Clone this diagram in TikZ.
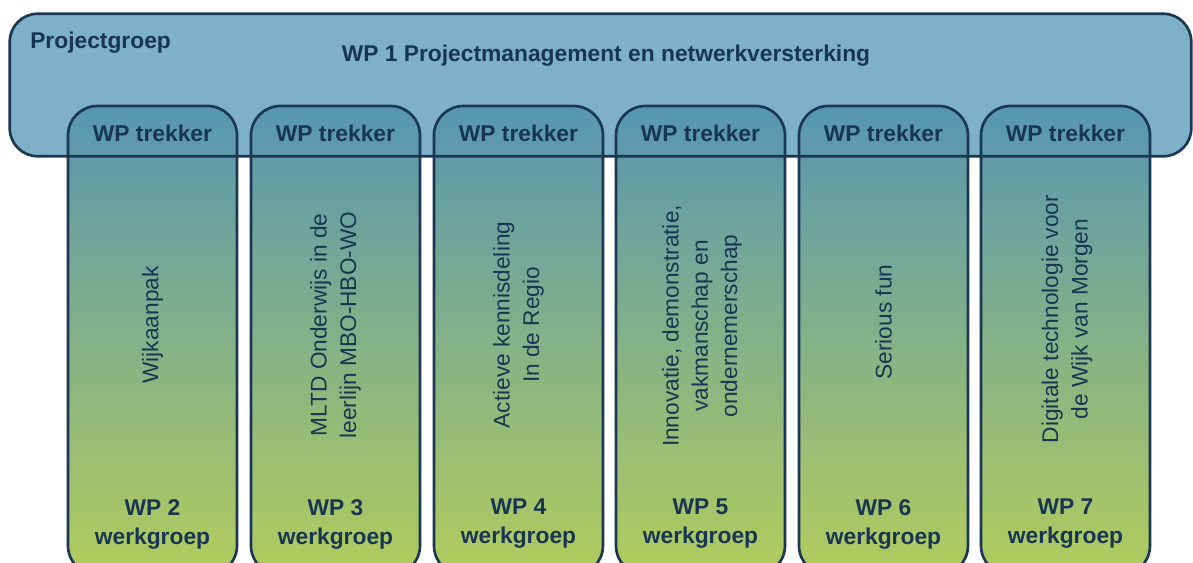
\documentclass[tikz,border=0pt]{standalone}
\usepackage{fontspec}
\setmainfont{Liberation Sans}
\definecolor{wpline}{RGB}{28,55,84}
\definecolor{wptxt}{RGB}{24,54,84}
\definecolor{wpbox}{RGB}{126,176,200}
\definecolor{wptop}{RGB}{86,150,178}
\definecolor{wpbottom}{RGB}{178,204,92}
\tikzset{
  projbox/.style={minimum width=885.75pt, minimum height=106.5pt, rounded corners=21pt, inner sep=0pt},
  wpcol/.style={draw=wpline, line width=2pt, rounded corners=22pt, minimum width=126.75pt,
    minimum height=351.75pt, top color=wptop, bottom color=wpbottom, inner sep=0pt},
  boldlbl/.style={text=wptxt, font=\fontsize{17.1}{21.75}\selectfont\bfseries, align=center, inner sep=0pt},
  wptext/.style={text=wptxt, font=\fontsize{17}{22}\selectfont, align=center, rotate=90, inner sep=0pt}
}

\begin{document}
\begin{tikzpicture}[x=0.75pt,y=-0.75pt]
                \useasboundingbox (0,0) rectangle (1193,562);
                
                % Projectgroep box
                \node[projbox, fill=wpbox] (pg) at (600.5,85) {};
                
                % Werkpakketten
                \node[wpcol] (wp2) at (152.5,340.5) {};
                \node[wpcol] (wp3) at (335.5,340.5) {};
                \node[wpcol] (wp4) at (518.5,340.5) {};
                \node[wpcol] (wp5) at (700.5,340.5) {};
                \node[wpcol] (wp6) at (883.5,340.5) {};
                \node[wpcol] (wp7) at (1065.5,340.5) {};
                
                \draw[wpline, line width=2pt, rounded corners=21pt] (pg.south west) rectangle (pg.north east);
                
                % Labels
                \node[boldlbl, anchor=west] (pgname) at (30,43) {Projectgroep};
                \node[boldlbl] (wp1) at (606,56) {WP 1 Projectmanagement en netwerkversterking};
                
                \node[boldlbl] (tr2) at (152.5,133) {WP trekker};
                \node[boldlbl] (tr3) at (335.5,133) {WP trekker};
                \node[boldlbl] (tr4) at (518.5,133) {WP trekker};
                \node[boldlbl] (tr5) at (700.5,133) {WP trekker};
                \node[boldlbl] (tr6) at (883.5,133) {WP trekker};
                \node[boldlbl] (tr7) at (1065.5,133) {WP trekker};
                
                \node[wptext] (ti2) at (152.5,325) {Wijkaanpak};
                \node[wptext] (ti3) at (335.5,325) {MLTD Onderwijs in de\\leerlijn MBO-HBO-WO};
                \node[wptext] (ti4) at (518.5,325) {Actieve kennisdeling\\In de Regio};
                \node[wptext] (ti5) at (702,326) {Innovatie, demonstratie,\\vakmanschap en\\ondernemerschap};
                \node[wptext] (ti6) at (883.5,322) {Serious fun};
                \node[wptext] (ti7) at (1067,319) {Digitale technologie voor\\de Wijk van Morgen};
                
                \node[boldlbl] (wg2) at (152.5,524) {WP 2\\werkgroep};
                \node[boldlbl] (wg3) at (335.5,524) {WP 3\\werkgroep};
                \node[boldlbl] (wg4) at (518.5,524) {WP 4\\werkgroep};
                \node[boldlbl] (wg5) at (700.5,524) {WP 5\\werkgroep};
                \node[boldlbl] (wg6) at (883.5,524) {WP 6\\werkgroep};
                \node[boldlbl] (wg7) at (1065.5,524) {WP 7\\werkgroep};
\end{tikzpicture}
\end{document}
